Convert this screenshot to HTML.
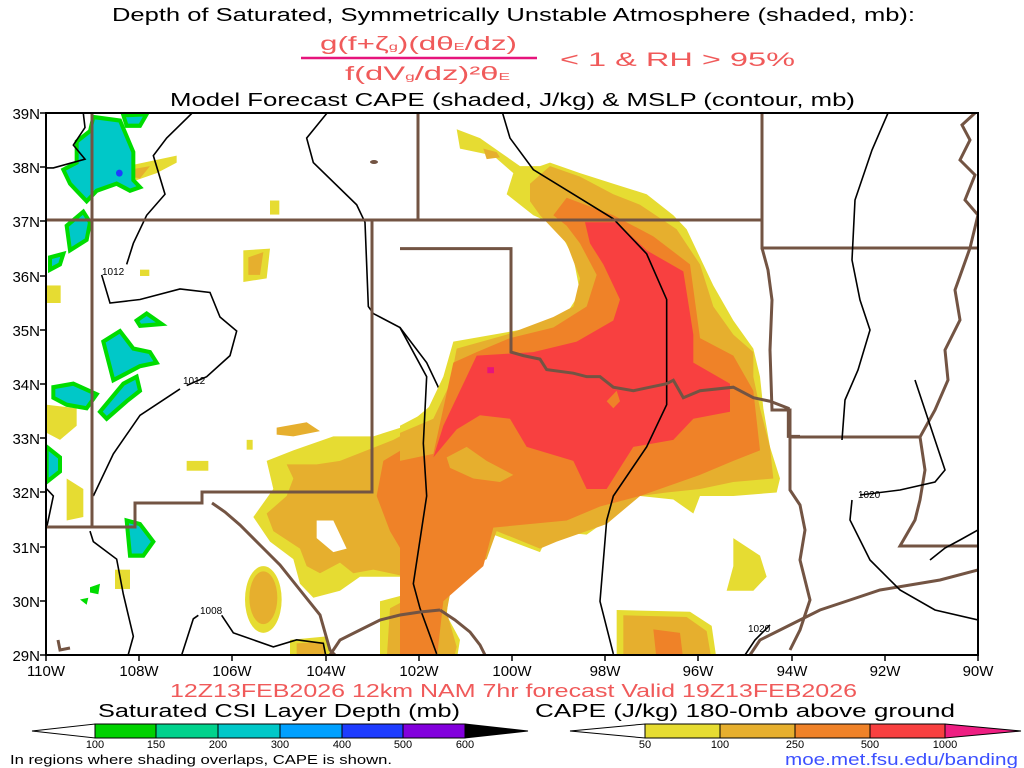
<!DOCTYPE html>
<html><head><meta charset="utf-8"><style>
html,body{margin:0;padding:0;background:#fff;width:1024px;height:768px;overflow:hidden}
svg{display:block}
text{font-family:"Liberation Sans",sans-serif}
</style></head><body>
<svg width="1024" height="768" viewBox="0 0 1024 768" xmlns="http://www.w3.org/2000/svg">
<defs><clipPath id="pc"><rect x="46" y="113" width="932" height="542"/></clipPath></defs>

<text x="112" y="21" font-size="18" fill="#000" textLength="803" lengthAdjust="spacingAndGlyphs">Depth of Saturated, Symmetrically Unstable Atmosphere (shaded, mb):</text>
<text x="320" y="50" font-size="19" fill="#f05a5a" textLength="197" lengthAdjust="spacingAndGlyphs">g(f+ζ<tspan font-size="10">g</tspan>)(dθ<tspan font-size="10">E</tspan>/dz)</text>
<line x1="301" y1="58" x2="537" y2="58" stroke="#e6147c" stroke-width="2.5"/>
<text x="345" y="80" font-size="19" fill="#f05a5a" textLength="165" lengthAdjust="spacingAndGlyphs">f(dV<tspan font-size="10">g</tspan>/dz)²θ<tspan font-size="10">E</tspan></text>
<text x="560" y="66" font-size="19" fill="#f05a5a" textLength="235" lengthAdjust="spacingAndGlyphs">&lt; 1 &amp; RH &gt; 95%</text>
<text x="170" y="106" font-size="18" fill="#000" textLength="685" lengthAdjust="spacingAndGlyphs">Model Forecast CAPE (shaded, J/kg) &amp; MSLP (contour, mb)</text>

<g clip-path="url(#pc)">
<g transform="translate(40 110) scale(0.33333 0.3509)">
 <polygon fill="#e6dc32" points="680,1000 760,970 880,930 1000,930 1100,900 1200,820 1200,1568 1020,1568 1020,1400 1100,1380 1080,1330 960,1330 900,1370 820,1390 780,1350 760,1280 690,1230 640,1160 700,1080"/>
 <polygon fill="#e6af2e" points="740,1010 830,1010 900,1000 980,970 1060,940 1140,900 1200,870 1200,1568 1040,1568 1050,1420 1110,1390 1100,1330 1000,1310 940,1320 900,1290 840,1320 800,1300 780,1250 700,1200 680,1150 740,1100 760,1050"/>
 <polygon fill="#ef8228" points="1030,1000 1100,960 1200,900 1200,1568 1080,1568 1100,1400 1130,1340 1100,1280 1050,1200 1010,1100"/>
 <polygon fill="#fff" points="830,1170 880,1170 920,1250 880,1260 830,1220"/>
 <ellipse cx="670" cy="1395" rx="55" ry="95" fill="#e6dc32"/>
 <ellipse cx="670" cy="1390" rx="42" ry="75" fill="#e6af2e"/>
 <polygon fill="#e6dc32" points="750,1510 860,1500 880,1568 750,1568"/>
 <polygon fill="#e6af2e" points="770,1520 850,1515 860,1568 770,1568"/>
 <polygon fill="#e6af2e" points="710,905 800,890 840,915 760,930 710,925"/>
 <polygon fill="#e6dc32" points="610,400 690,395 680,480 610,490"/>
 <polygon fill="#e6af2e" points="625,420 670,405 660,470 625,470"/>
 <polygon fill="#e6dc32" points="260,160 410,130 410,150 350,180 290,200 260,200"/>
 <polygon fill="#e6af2e" points="270,170 330,160 300,195 270,190"/>
 <rect x="440" y="1000" width="65" height="28" fill="#e6dc32"/>
 <rect x="20" y="500" width="42" height="50" fill="#e6dc32"/>
 <rect x="300" y="455" width="28" height="18" fill="#e6dc32"/>
 <rect x="690" y="258" width="28" height="40" fill="#e6dc32"/>
 <rect x="620" y="940" width="18" height="28" fill="#e6dc32"/>
 <rect x="225" y="1310" width="45" height="55" fill="#e6dc32"/>
 <polygon fill="#e6dc32" points="20,840 110,850 110,900 60,940 20,920"/>
 <polygon fill="#e6dc32" points="80,1050 130,1080 130,1160 80,1170"/>
 <g fill="#00c8c8" stroke="#00dc00" stroke-width="12">
  <polygon points="160,20 240,30 280,120 280,200 300,220 270,230 230,210 170,230 140,260 110,230 90,210 70,170 110,150 110,90 150,60"/>
  <polygon points="250,15 320,12 300,45 260,45"/>
  <polygon points="80,330 130,290 150,320 140,370 90,400"/>
  <polygon points="30,420 70,410 60,440 30,455"/>
  <polygon points="190,660 240,630 280,680 330,690 350,720 300,730 240,760 220,770"/>
  <polygon points="180,860 250,780 290,760 300,800 260,830 200,880"/>
  <polygon points="290,600 320,580 365,610 300,615"/>
  <polygon points="40,790 100,780 170,810 140,850 80,840 40,820"/>
  <polygon points="20,960 60,990 60,1030 20,1060"/>
  <polygon points="260,1170 300,1180 340,1230 310,1270 270,1270"/>
 </g>
 <circle cx="238" cy="180" r="10" fill="#1e3cff"/>
 <polygon fill="#00dc00" points="150,1360 180,1350 175,1380 150,1375"/>
 <polygon fill="#00dc00" points="120,1395 145,1390 140,1410"/>
 <g fill="none" stroke="#000" stroke-width="1.6">
  <polyline vector-effect="non-scaling-stroke" points="455,10 380,80 340,130 375,240 320,300 280,380 260,440"/>
  <polyline vector-effect="non-scaling-stroke" points="185,470 210,550 300,540 420,510 510,520 540,590 590,630 570,700 500,760 440,785"/>
  <polyline vector-effect="non-scaling-stroke" points="420,795 300,870 220,980 180,1060 160,1100"/>
  <polyline vector-effect="non-scaling-stroke" points="0,165 40,165 135,140 100,100 135,50 130,10"/>
  <polyline vector-effect="non-scaling-stroke" points="860,10 800,80 820,150 950,270 975,320 985,560 1000,580 1080,620 1160,720 1200,800"/>
  <polyline vector-effect="non-scaling-stroke" points="20,1080 40,1100 20,1190"/>
  <polyline vector-effect="non-scaling-stroke" points="150,1200 160,1230 230,1280 250,1380 280,1500 260,1568"/>
  <polyline vector-effect="non-scaling-stroke" points="420,1568 460,1450 475,1440"/>
  <polyline vector-effect="non-scaling-stroke" points="545,1440 580,1490 700,1530 770,1510 850,1520 860,1568"/>
 </g>
</g>

<g transform="translate(400 110) scale(0.33333 0.3509)">
 <polygon fill="#e6dc32" points="170,55 240,80 300,120 360,160 420,160 450,150 540,180 640,210 740,240 820,300 860,340 900,420 940,500 1000,600 1060,680 1080,760 1090,850 1110,960 1140,1050 1130,1090 1000,1100 900,1100 880,1150 820,1110 720,1100 620,1170 560,1210 450,1200 420,1260 280,1210 250,1290 150,1350 140,1440 180,1510 170,1568 0,1568 0,900 80,860 130,760 160,660 280,640 400,620 500,580 540,520 520,420 470,330 400,300 320,240 340,180 280,130 180,110"/>
 <polygon fill="#e6af2e" points="390,210 450,160 540,190 640,240 720,270 830,340 900,440 940,560 1000,640 1060,690 1060,760 1080,850 1110,960 1120,1050 1000,1060 900,1080 800,1090 720,1100 620,1180 560,1200 470,1230 420,1250 290,1200 260,1280 160,1330 140,1430 170,1530 160,1568 0,1568 0,920 100,880 150,780 170,680 320,640 460,590 520,560 540,480 500,380 420,300 390,260"/>
 <polygon fill="#e6af2e" points="250,110 290,120 300,135 260,140"/>
 <polygon fill="#ef8228" points="500,250 640,300 760,360 870,440 900,650 1000,700 1060,800 1080,970 1000,1000 900,1040 720,1100 600,1130 500,1170 280,1190 250,1300 130,1400 110,1568 0,1568 0,1000 100,980 160,720 230,690 330,650 460,620 560,560 590,470 540,380 500,330 460,300"/>
 <polygon fill="#e6af2e" points="140,990 200,960 260,1000 340,1040 300,1060 220,1050 150,1020"/>
 <polygon fill="#f84040" points="555,320 650,320 740,400 850,460 880,640 880,720 990,780 990,860 880,880 820,940 700,960 620,1080 560,1080 520,1000 380,960 330,880 240,870 170,910 100,990 130,900 230,700 400,690 530,660 640,600 660,540 610,440 570,380"/>
 <polygon fill="#ef8228" points="620,830 650,800 660,830 640,850"/>
 <rect x="262" y="733" width="20" height="17" fill="#e6147c"/>
 <polygon fill="#e6dc32" points="1000,1220 1080,1270 1100,1330 1060,1370 980,1370 1000,1300"/>
 <polygon fill="#e6dc32" points="650,1425 870,1430 935,1470 950,1568 650,1568"/>
 <polygon fill="#e6af2e" points="670,1440 860,1445 920,1485 935,1568 670,1568"/>
 <polygon fill="#ef8228" points="760,1480 840,1490 850,1568 770,1568"/>
 <polygon fill="#ef8228" points="0,1450 100,1440 110,1568 0,1568"/>
 <g fill="none" stroke="#000" stroke-width="1.6">
  <polyline vector-effect="non-scaling-stroke" points="305,0 330,80 400,170 520,240 640,310 740,410 800,540 800,700 800,840 740,960 640,1100 620,1170 600,1400 640,1550"/>
  <polyline vector-effect="non-scaling-stroke" points="0,620 80,760 70,950 80,1100 40,1350 60,1420 110,1550"/>
 </g>
 <g fill="none" stroke="#735443" stroke-width="3">
  <polyline vector-effect="non-scaling-stroke" points="0,395 333,395 333,690 370,700 420,710 440,740 520,750 560,760 600,760 640,790 700,800 750,790 800,780 820,770 850,820 900,800 1000,790 1060,820 1110,830 1165,850 1165,930 1200,930"/>
 </g>
</g>

<g fill="none" stroke="#735443" stroke-width="3">
 <polyline points="46,220 762,220"/>
 <polyline points="418,113 418,220"/>
 <polyline points="762,113 762,248 978,248"/>
 <polyline points="372,220 372,492 202,492 202,503 135,503 135,527 46,527"/>
 <polyline points="92,113 92,527"/>
 <polyline points="212,503 225,512 240,525 260,545 280,565 300,590 320,615 330,650 335,655"/>
 <polyline points="762,248 768,270 772,300 770,350 772,410 790,410 790,437 920,437"/>
 <polyline points="790,437 790,490 800,505 805,530 800,560 810,600 800,630 790,650"/>
 <polyline points="975,113 962,125 970,140 960,160 975,175 965,200 978,215 970,248 955,290 960,320 945,350 948,380 935,410 920,437 925,470 920,500 915,520 900,546 978,546"/>
 <polyline points="750,655 760,640 780,630 800,620 820,610 850,600 880,590 910,585 940,580 978,570"/>
 <polyline points="330,655 340,640 360,630 380,620 400,615 420,612 440,610"/>
 <polyline points="440,610 455,620 470,632 480,645 485,655"/>
 <ellipse cx="374" cy="162" rx="4" ry="2" fill="#735443" stroke="none"/>
 <polyline points="58,640 60,650 70,648"/>
</g>
<g fill="none" stroke="#000" stroke-width="1.6">
 <polyline points="888,113 872,150 855,200 852,260 860,300 870,330 858,370 845,400 842,440"/>
 <polyline points="915,380 935,440 945,470 935,482 900,490 860,495"/>
 <polyline points="852,500 850,520 870,560 900,590 935,610 978,620"/>
 <polyline points="770,625 755,640 745,655"/>
 <polyline points="978,530 960,540 945,548 930,560"/>
</g>
<g font-size="10" fill="#000">
 <text x="102" y="275">1012</text>
 <text x="183" y="384">1012</text>
 <text x="200" y="614">1008</text>
 <text x="858" y="498">1020</text>
 <text x="748" y="632">1020</text>
</g>
</g>

<rect x="46" y="113" width="932" height="542" fill="none" stroke="#000" stroke-width="2"/>
<g stroke="#000" stroke-width="1.5">
 <line x1="40" y1="113" x2="46" y2="113"/><line x1="40" y1="167" x2="46" y2="167"/><line x1="40" y1="221" x2="46" y2="221"/><line x1="40" y1="276" x2="46" y2="276"/><line x1="40" y1="330" x2="46" y2="330"/><line x1="40" y1="384" x2="46" y2="384"/><line x1="40" y1="438" x2="46" y2="438"/><line x1="40" y1="492" x2="46" y2="492"/><line x1="40" y1="547" x2="46" y2="547"/><line x1="40" y1="601" x2="46" y2="601"/><line x1="40" y1="655" x2="46" y2="655"/>
 <line x1="46" y1="655" x2="46" y2="661"/><line x1="139" y1="655" x2="139" y2="661"/><line x1="232" y1="655" x2="232" y2="661"/><line x1="326" y1="655" x2="326" y2="661"/><line x1="419" y1="655" x2="419" y2="661"/><line x1="512" y1="655" x2="512" y2="661"/><line x1="605" y1="655" x2="605" y2="661"/><line x1="698" y1="655" x2="698" y2="661"/><line x1="792" y1="655" x2="792" y2="661"/><line x1="885" y1="655" x2="885" y2="661"/><line x1="978" y1="655" x2="978" y2="661"/>
</g>
<g font-size="15" fill="#000" text-anchor="end">
 <text x="40" y="119">39N</text><text x="40" y="173">38N</text><text x="40" y="227">37N</text><text x="40" y="282">36N</text><text x="40" y="336">35N</text><text x="40" y="390">34N</text><text x="40" y="444">33N</text><text x="40" y="498">32N</text><text x="40" y="553">31N</text><text x="40" y="607">30N</text><text x="40" y="661">29N</text>
</g>
<g font-size="15" fill="#000" text-anchor="middle">
 <text x="46" y="676">110W</text><text x="139" y="676">108W</text><text x="232" y="676">106W</text><text x="326" y="676">104W</text><text x="419" y="676">102W</text><text x="512" y="676">100W</text><text x="605" y="676">98W</text><text x="698" y="676">96W</text><text x="792" y="676">94W</text><text x="885" y="676">92W</text><text x="978" y="676">90W</text>
</g>

<text x="170" y="697" font-size="18" fill="#f05a5a" textLength="687" lengthAdjust="spacingAndGlyphs">12Z13FEB2026 12km NAM 7hr forecast Valid 19Z13FEB2026</text>
<text x="98" y="717" font-size="18" fill="#000" textLength="362" lengthAdjust="spacingAndGlyphs">Saturated CSI Layer Depth (mb)</text>
<text x="535" y="717" font-size="18" fill="#000" textLength="420" lengthAdjust="spacingAndGlyphs">CAPE (J/kg) 180-0mb above ground</text>

<g stroke="#000" stroke-width="1">
 <polygon points="32,731 95,724 95,738" fill="#fff"/>
 <rect x="95" y="724" width="61" height="14" fill="#00d200"/>
 <rect x="156" y="724" width="62" height="14" fill="#00d28c"/>
 <rect x="218" y="724" width="62" height="14" fill="#00c8c8"/>
 <rect x="280" y="724" width="62" height="14" fill="#00a0ff"/>
 <rect x="342" y="724" width="61" height="14" fill="#1e3cff"/>
 <rect x="403" y="724" width="62" height="14" fill="#8200dc"/>
 <polygon points="465,724 528,731 465,738" fill="#000"/>
 <polygon points="570,731 645,724 645,738" fill="#fff"/>
 <rect x="645" y="724" width="75" height="14" fill="#e6dc32"/>
 <rect x="720" y="724" width="75" height="14" fill="#e6af2e"/>
 <rect x="795" y="724" width="75" height="14" fill="#ef8228"/>
 <rect x="870" y="724" width="75" height="14" fill="#f84040"/>
 <polygon points="945,724 1021,731 945,738" fill="#ee1e82"/>
</g>
<g font-size="11" fill="#000" text-anchor="middle">
 <text x="95" y="748">100</text><text x="156" y="748">150</text><text x="218" y="748">200</text><text x="280" y="748">300</text><text x="342" y="748">400</text><text x="403" y="748">500</text><text x="465" y="748">600</text>
 <text x="645" y="748">50</text><text x="720" y="748">100</text><text x="795" y="748">250</text><text x="870" y="748">500</text><text x="945" y="748">1000</text>
</g>
<text x="10" y="764" font-size="13" fill="#000" textLength="382" lengthAdjust="spacingAndGlyphs">In regions where shading overlaps, CAPE is shown.</text>
<text x="785" y="765" font-size="17" fill="#3c50ff" textLength="233" lengthAdjust="spacingAndGlyphs">moe.met.fsu.edu/banding</text>
</svg>
</body></html>
